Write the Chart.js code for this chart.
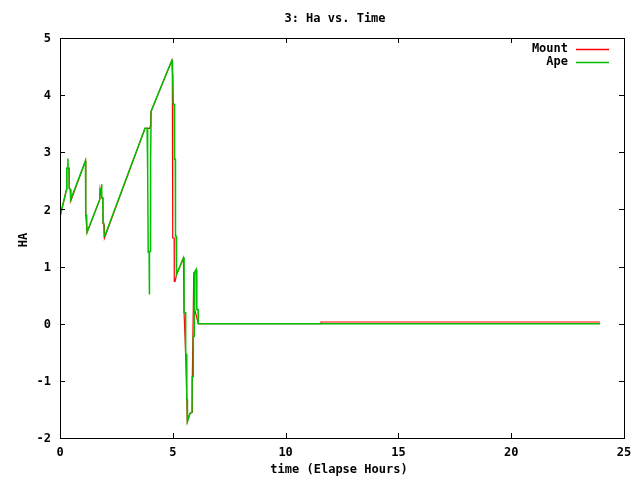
<!DOCTYPE html>
<html>
<head>
<meta charset="utf-8">
<script src="https://cdn.jsdelivr.net/npm/chart.js@4/dist/chart.umd.min.js"></script>
<style>
  body { margin: 0; background: #fff; }
  canvas { display: block; }
</style>
</head>
<body>
<canvas id="chart" width="640" height="480"></canvas>
<script>
// time in elapsed hours, HA values
const apeTime = [0.00, 0.29, 0.30, 0.34, 0.35, 0.36, 0.40, 0.41, 0.46, 0.47,
    1.13, 1.14, 1.18, 1.20, 1.76, 1.78, 1.83, 1.84, 1.86, 1.90, 1.91, 1.94, 1.96, 2.00,
    3.77, 3.86, 3.87, 3.90, 3.91, 3.95, 3.96, 3.97, 3.99, 4.00, 4.03, 4.04,
    4.96, 4.98, 5.02, 5.07, 5.08, 5.11, 5.12, 5.15, 5.16, 5.17, 5.47,
    5.50, 5.50, 5.57, 5.57, 5.62, 5.62, 5.64, 5.65, 5.76, 5.85, 5.86, 5.90, 5.91, 5.94, 5.95,
    6.03, 6.06, 6.07, 6.12, 6.13, 23.94];
const apeHa = [1.87, 2.35, 2.72, 2.72, 2.89, 2.72, 2.72, 2.37, 2.35, 2.17,
    2.85, 1.91, 1.90, 1.60, 2.17, 2.36, 2.36, 2.44, 2.20, 2.20, 1.77, 1.75, 1.53, 1.55,
    3.42, 3.42, 2.70, 2.70, 1.25, 1.25, 0.51, 1.25, 1.27, 2.82, 2.82, 3.72,
    4.61, 4.61, 3.84, 3.84, 2.88, 2.88, 1.53, 1.53, 0.86, 0.86, 1.15,
    1.15, 0.19, 0.19, -0.54, -0.54, -1.33, -1.33, -1.71, -1.57, -1.55, -0.93, -0.93, -0.22, -0.22, 0.89,
    0.95, 0.71, 0.25, 0.25, 0.00, 0.00];

const mountTime = [0.00, 0.29, 0.30, 0.40, 0.41, 0.46, 0.48,
    1.13, 1.14, 1.20, 1.76, 1.78, 1.86, 1.90, 1.91, 1.96, 1.97, 2.00,
    3.77, 3.98, 4.00, 4.02, 4.04,
    4.96, 4.98, 4.985, 5.00, 5.005, 5.06, 5.065, 5.10, 5.17, 5.47,
    5.50, 5.57, 5.62, 5.64, 5.76, 5.86, 5.86, 5.87, 5.93, 5.97, 5.97, 6.13,
    11.57, 11.57, 23.94];
const mountHa = [1.87, 2.35, 2.72, 2.72, 2.37, 2.35, 2.15,
    2.85, 1.91, 1.60, 2.17, 2.36, 2.20, 2.20, 1.75, 1.73, 1.50, 1.53,
    3.42, 3.42, 3.46, 3.60, 3.72,
    4.61, 4.37, 3.64, 3.64, 1.50, 1.50, 0.74, 0.74, 0.86, 1.15,
    0.19, -0.54, -1.33, -1.71, -1.57, -1.55, -1.30, -0.95, 0.89, 0.89, 0.25, 0.00,
    0.00, 0.03, 0.03];

const xTicks = [0, 5, 10, 15, 20, 25];
const yTicks = [-2, -1, 0, 1, 2, 3, 4, 5];

const seriesNames = ["Mount", "Ape"];
const seriesColors = ["#ff0000", "#00c000"];

function toPoints(xs, ys) {
    return xs.map((x, i) => ({ x: x, y: ys[i] }));
}

const fontName = "bold 12px 'DejaVu Sans Mono', monospace";

// gnuplot style frame, ticks, labels and key
const gnuFrame = {
    id: "gnuFrame",
    afterDraw(chart) {
        const ctx = chart.ctx;
        const a = chart.chartArea;
        const xs = chart.scales.x;
        const ys = chart.scales.y;
        ctx.save();
        ctx.strokeStyle = "#000";
        ctx.lineWidth = 1;
        ctx.strokeRect(Math.round(a.left) + 0.5, Math.round(a.top) + 0.5,
            Math.round(a.right - a.left), Math.round(a.bottom - a.top));

        ctx.beginPath();
        xTicks.forEach(t => {
            const px = Math.round(xs.getPixelForValue(t)) + 0.5;
            ctx.moveTo(px, a.bottom);
            ctx.lineTo(px, a.bottom - 5);
            ctx.moveTo(px, a.top);
            ctx.lineTo(px, a.top + 5);
        });
        yTicks.forEach(t => {
            const py = Math.round(ys.getPixelForValue(t)) + 0.5;
            ctx.moveTo(a.left, py);
            ctx.lineTo(a.left + 5, py);
            ctx.moveTo(a.right, py);
            ctx.lineTo(a.right - 5, py);
        });
        ctx.stroke();

        ctx.fillStyle = "#000";
        ctx.font = fontName;
        ctx.textBaseline = "middle";
        ctx.textAlign = "right";
        yTicks.forEach(t => {
            ctx.fillText(String(t), a.left - 9, ys.getPixelForValue(t) + 1);
        });
        ctx.textAlign = "center";
        xTicks.forEach(t => {
            ctx.fillText(String(t), xs.getPixelForValue(t), a.bottom + 15);
        });

        ctx.fillText("3: Ha vs. Time", 335, 19);
        ctx.fillText("time (Elapse Hours)", 339, 470);
        ctx.save();
        ctx.translate(24, 240);
        ctx.rotate(-Math.PI / 2);
        ctx.fillText("HA", 0, 0);
        ctx.restore();

        // key
        ctx.textAlign = "right";
        seriesNames.forEach((name, i) => {
            const py = 49 + i * 13;
            ctx.fillStyle = "#000";
            ctx.fillText(name, 568, py);
            ctx.strokeStyle = seriesColors[i];
            ctx.lineWidth = 1.5;
            ctx.beginPath();
            ctx.moveTo(576, Math.round(py) + 0.5);
            ctx.lineTo(609, Math.round(py) + 0.5);
            ctx.stroke();
        });
        ctx.restore();
    }
};

// mount first so the ape line is drawn over it
new Chart(document.getElementById("chart").getContext("2d"), {
    type: "scatter",
    data: {
        datasets: [
            {
                label: seriesNames[0],
                data: toPoints(mountTime, mountHa),
                borderColor: seriesColors[0],
                showLine: true,
                borderWidth: 1.2,
                pointRadius: 0,
                tension: 0,
                order: 2
            },
            {
                label: seriesNames[1],
                data: toPoints(apeTime, apeHa),
                borderColor: seriesColors[1],
                showLine: true,
                borderWidth: 1.5,
                pointRadius: 0,
                tension: 0,
                order: 1
            }
        ]
    },
    options: {
        responsive: false,
        animation: false,
        layout: { padding: { left: 60, right: 16, top: 38, bottom: 42 } },
        plugins: {
            legend: { display: false },
            title: { display: false },
            tooltip: { enabled: false }
        },
        scales: {
            x: { type: "linear", min: 0, max: 25, display: false },
            y: { type: "linear", min: -2, max: 5, display: false }
        }
    },
    plugins: [gnuFrame]
});
</script>
</body>
</html>
